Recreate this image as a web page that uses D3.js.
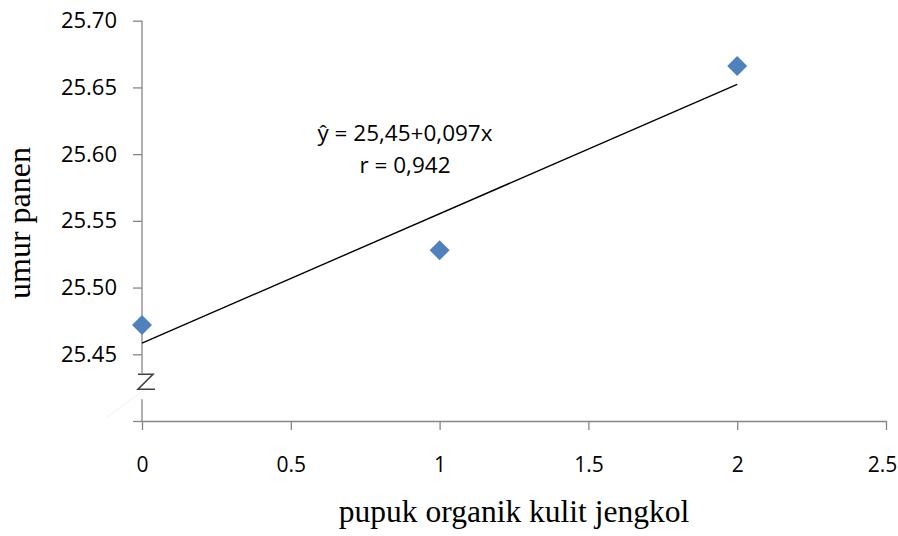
<!DOCTYPE html>
<html>
<head>
<meta charset="utf-8">
<script src="https://cdn.jsdelivr.net/npm/d3@7"></script>
<style>
  html, body { margin: 0; padding: 0; background: #fff; }
  svg { display: block; }
</style>
</head>
<body>
<svg id="chart" width="898" height="536"></svg>
<script>
// Dosage of jengkol-peel organic fertiliser and the observed harvest age
const doses = [0, 1, 2];
const harvestAge = [25.472, 25.528, 25.666];

// Axis ticks
const xTicks = [0, 0.5, 1, 1.5, 2, 2.5];
const xTickLabels = ["0", "0.5", "1", "1.5", "2", "2.5"];
const yTicks = [25.40, 25.45, 25.50, 25.55, 25.60, 25.65, 25.70];
const yTickLabels = ["", "25.45", "25.50", "25.55", "25.60", "25.65", "25.70"];

// Regression annotation
const equationLines = ["ŷ = 25,45+0,097x", "r = 0,942"];
const xTitle = "pupuk organik kulit jengkol";
const yTitle = "umur panen";

const svg = d3.select("#chart");
const axisColor = "#868686";
const markerColor = "#4F81BD";
const sansFont = "'Open Sans', sans-serif";
const serifFont = "'Liberation Serif', 'Times New Roman', serif";

const x = d3.scaleLinear().domain([0, 2.5]).range([142, 886]);
const y = d3.scaleLinear().domain([25.40, 25.70]).range([421, 20.7]);

// Least-squares trend line through the observations
const n = doses.length;
const mx = d3.mean(doses), my = d3.mean(harvestAge);
let sxy = 0, sxx = 0;
for (let i = 0; i < n; i++) {
  sxy += (doses[i] - mx) * (harvestAge[i] - my);
  sxx += (doses[i] - mx) ** 2;
}
const slope = sxy / sxx;
const intercept = my - slope * mx;

// X axis
const xAxis = d3.axisBottom(x)
  .tickValues(xTicks)
  .tickFormat((d, i) => xTickLabels[i])
  .tickSize(9)
  .tickSizeOuter(0)
  .tickPadding(27);
const gx = svg.append("g")
  .attr("transform", `translate(0,${y(25.40)})`)
  .call(xAxis);
gx.select(".domain").attr("stroke", axisColor).attr("stroke-width", 1.3);
gx.selectAll(".tick line").attr("stroke", axisColor).attr("stroke-width", 1.3);
gx.selectAll(".tick text")
  .attr("fill", "#000")
  .style("font-family", sansFont)
  .style("font-size", "21px");
// keep the last label inside the frame
gx.selectAll(".tick text").filter(d => d === 2.5).attr("dx", -4);

// Y axis with a break between the first tick and the x axis
const yAxis = d3.axisLeft(y)
  .tickValues(yTicks)
  .tickFormat((d, i) => yTickLabels[i])
  .tickSize(9)
  .tickSizeOuter(0)
  .tickPadding(16);
const gy = svg.append("g")
  .attr("transform", `translate(${x(0)},0)`)
  .call(yAxis);
gy.select(".domain").remove();
gy.selectAll(".tick line").attr("stroke", axisColor).attr("stroke-width", 1.3);
gy.selectAll(".tick text")
  .attr("fill", "#000")
  .style("font-family", sansFont)
  .style("font-size", "22px");

const breakTop = y(25.45) + 19;
const breakBottom = y(25.45) + 45;
gy.append("line")
  .attr("x1", 0).attr("x2", 0)
  .attr("y1", y(25.70)).attr("y2", breakTop)
  .attr("stroke", axisColor).attr("stroke-width", 1.3);
gy.append("line")
  .attr("x1", 0).attr("x2", 0)
  .attr("y1", breakBottom).attr("y2", y(25.40))
  .attr("stroke", axisColor).attr("stroke-width", 1.3);

// faint slash behind the break
svg.append("line")
  .attr("x1", x(0) + 13).attr("y1", breakTop + 9)
  .attr("x2", x(0) - 35).attr("y2", y(25.40) - 4)
  .attr("stroke", "#efefef").attr("stroke-width", 1);

// zig-zag break symbol
const zx = x(0) + 4, zy = breakTop + 8;
svg.append("path")
  .attr("d", `M${zx - 8},${zy - 7} L${zx + 7},${zy - 7} L${zx - 8},${zy + 8} L${zx + 9},${zy + 8}`)
  .attr("fill", "none")
  .attr("stroke", "#404040")
  .attr("stroke-width", 1.6);

// Trend line across the observed dose range
const [x0, x1] = d3.extent(doses);
svg.append("line")
  .attr("x1", x(x0)).attr("y1", y(intercept + slope * x0))
  .attr("x2", x(x1)).attr("y2", y(intercept + slope * x1))
  .attr("stroke", "#000")
  .attr("stroke-width", 1.4);

// Diamond markers
const r = 10;
svg.append("g")
  .selectAll("path")
  .data(doses.map((d, i) => [d, harvestAge[i]]))
  .join("path")
  .attr("d", d => {
    const cx = x(d[0]), cy = y(d[1]);
    return `M${cx},${cy - r} L${cx + r},${cy} L${cx},${cy + r} L${cx - r},${cy} Z`;
  })
  .attr("fill", markerColor);

// Regression equation
const eq = svg.append("text")
  .attr("text-anchor", "middle")
  .style("font-family", sansFont)
  .style("font-size", "22.5px")
  .attr("fill", "#000");
eq.selectAll("tspan")
  .data(equationLines)
  .join("tspan")
  .attr("x", 405)
  .attr("y", (d, i) => 141 + i * 32)
  .text(d => d);

// Axis titles
svg.append("text")
  .attr("x", (x(0) + x(2.5)) / 2)
  .attr("y", 522)
  .attr("text-anchor", "middle")
  .style("font-family", serifFont)
  .style("font-size", "31.5px")
  .attr("fill", "#000")
  .text(xTitle);

svg.append("text")
  .attr("transform", `translate(30,223) rotate(-90)`)
  .attr("text-anchor", "middle")
  .style("font-family", serifFont)
  .style("font-size", "32px")
  .attr("fill", "#000")
  .text(yTitle);
</script>
</body>
</html>
